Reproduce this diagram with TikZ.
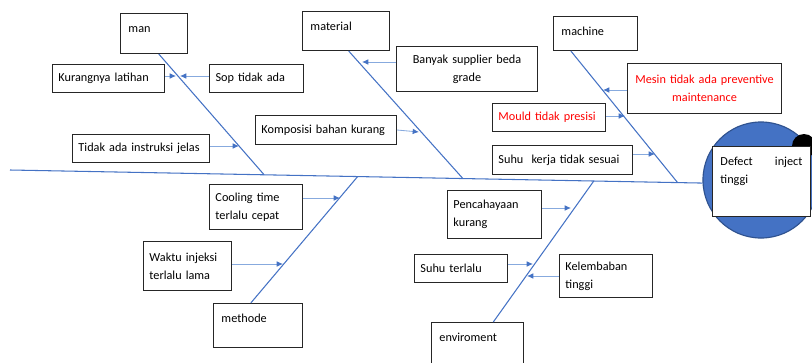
\documentclass[tikz,border=0pt]{standalone}
\usepackage{fontspec}
\setmainfont{Carlito}
\usetikzlibrary{arrows.meta, positioning, calc}
\definecolor{boneblue}{RGB}{68,114,196}
\definecolor{arrblue}{RGB}{135,170,222}
\definecolor{headline}{RGB}{47,82,143}
\definecolor{causered}{RGB}{255,0,0}
\newcommand\cfont{\fontsize{8.7}{12.8}\selectfont}
\tikzset{
  catbox/.style 2 args = {draw=black!85, line width=0.7pt, rectangle,
                          anchor=north west, font=\cfont, align=left,
                          inner xsep=0.2cm, inner ysep=0pt, text width=#1,
                          text height=0.475cm, text depth=#2},
  cause/.style 2 args  = {draw=black!85, line width=0.7pt, rectangle,
                          anchor=north west, font=\cfont, align=left,
                          inner xsep=0.15cm, inner ysep=0pt, text width=#1,
                          minimum height=#2},
  bone/.style  = {draw=boneblue, line width=0.75pt},
  arr/.style   = {draw=arrblue, line width=0.6pt,
                  -{Latex[length=4.5pt, width=4pt, color=boneblue]}}
}

\begin{document}
\begin{tikzpicture}[x=0.025cm, y=-0.025cm]
  \useasboundingbox (0,0) rectangle (812,363);

  % ── Head: circle with effect box ──────────────────────────────────────────
  \node[circle, draw=headline, line width=0.8pt, fill=boneblue,
        minimum size=2.9cm, inner sep=0pt] (Head) at (761,180) {};
  \node[circle, fill=black, minimum size=0.6cm, inner sep=0pt] (Dot) at (804,146) {};
  \node[catbox={2.05cm}{1.275cm}, fill=white] (Effect) at (712,146)
    {Defect\hskip 0pt plus 1filll inject\\ tinggi};

  % ── Spine ─────────────────────────────────────────────────────────────────
  \coordinate (Tail) at (10,170);
  \draw[bone] (Tail) -- (Head.183);

  % ── Category boxes ────────────────────────────────────────────────────────
  \node[catbox={1.275cm}{0.525cm}] (Man)        at (120,13)  {man};
  \node[catbox={1.775cm}{0.5cm}]   (Material)   at (302,11)  {material};
  \node[catbox={1.7cm}{0.375cm}]   (Machine)    at (553,16)  {machine};
  \node[catbox={1.825cm}{0.625cm}] (Methode)    at (213,303) {methode};
  \node[catbox={1.9cm}{0.65cm}]    (Enviroment) at (431,322) {enviroment};

  % ── Bones ─────────────────────────────────────────────────────────────────
  \draw[bone] ($(Man.south west)!0.57!(Man.south east)$)
              -- ($(Tail)!0.367!(Head.183)$);
  \draw[bone] ($(Material.south west)!0.53!(Material.south east)$)
              -- ($(Tail)!0.654!(Head.183)$);
  \draw[bone] ($(Machine.south west)!0.21!(Machine.south east)$)
              -- ($(Tail)!0.964!(Head.183)$);
  \draw[bone] ($(Tail)!0.502!(Head.183)$)
              -- ($(Methode.north west)!0.42!(Methode.north east)$);
  \draw[bone] ($(Tail)!0.843!(Head.183)$)
              -- ($(Enviroment.north west)!0.67!(Enviroment.north east)$);

  % ── Causes: man ───────────────────────────────────────────────────────────
  \node[cause={2.5cm}{0.7cm}] (Kurang) at (52,64) {Kurangnya latihan};
  \node[cause={2.05cm}{0.7cm}, right=1.1cm of Kurang] (Sop) {Sop tidak ada};
  \node[cause={3.125cm}{0.7cm}] (Instruksi) at (72,134) {Tidak ada instruksi jelas};

  % ── Causes: material ──────────────────────────────────────────────────────
  \node[cause={3.225cm}{1.125cm}, align=center] (Supplier) at (396,46)
    {Banyak supplier beda\\ grade};
  \node[cause={3.225cm}{0.725cm}] (Komposisi) at (255,115) {Komposisi bahan kurang};

  % ── Causes: machine ───────────────────────────────────────────────────────
  \node[cause={3.55cm}{1.25cm}, align=center, text=causered] (Mesin) at (627,63)
    {Mesin tidak ada preventive\\ maintenance};
  \node[cause={2.525cm}{0.7cm}, text=causered] (Mould) at (492,103) {Mould tidak presisi};
  \node[cause={3.2cm}{0.725cm}, below=0.325cm of Mould.south west, anchor=north west]
    (SuhuKerja) {Suhu\ \ kerja tidak sesuai};

  % ── Causes: methode ───────────────────────────────────────────────────────
  \node[cause={2.025cm}{1.125cm}] (Cooling) at (209,184) {Cooling time\\ terlalu cepat};
  \node[cause={1.9cm}{1.225cm}]   (Waktu)   at (143,241) {Waktu injeksi\\ terlalu lama};

  % ── Causes: enviroment ────────────────────────────────────────────────────
  \node[cause={2.05cm}{1.2cm}]   (Cahaya)      at (447,190) {Pencahayaan\\ kurang};
  \node[cause={2.025cm}{0.7cm}]  (SuhuTerlalu) at (414,254) {Suhu terlalu};
  \node[cause={2.025cm}{1.075cm}] (Lembab)     at (559,254) {Kelembaban\\ tinggi};

  % ── Arrow tips on the bones ───────────────────────────────────────────────
  \coordinate (tKurang)      at (176,76);
  \coordinate (tSop)         at (180,76);
  \coordinate (tInstruksi)   at (239,146);
  \coordinate (tSupplier)    at (362,62);
  \coordinate (tKomposisi)   at (419,132);
  \coordinate (tMesin)       at (603,90);
  \coordinate (tMould)       at (625,116);
  \coordinate (tSuhuKerja)   at (655,154);
  \coordinate (tCooling)     at (340,198);
  \coordinate (tWaktu)       at (283,264);
  \coordinate (tCahaya)      at (571,208);
  \coordinate (tSuhuTerlalu) at (533,264);
  \coordinate (tLembab)      at (527,276);

  % ── Cause arrows ──────────────────────────────────────────────────────────
  \draw[arr] (Kurang.east |- tKurang)           -- (tKurang);
  \draw[arr] (Sop.west |- tSop)                 -- (tSop);
  \draw[arr] (Instruksi.east |- tInstruksi)     -- (tInstruksi);
  \draw[arr] (Supplier.west |- tSupplier)       -- (tSupplier);
  \draw[arr] (Komposisi.east)                   -- (tKomposisi);
  \draw[arr] (Mesin.west |- tMesin)             -- (tMesin);
  \draw[arr] (Mould.east |- tMould)             -- (tMould);
  \draw[arr] (SuhuKerja.east |- tSuhuKerja)     -- (tSuhuKerja);
  \draw[arr] (Cooling.east |- tCooling)         -- (tCooling);
  \draw[arr] (Waktu.east |- tWaktu)             -- (tWaktu);
  \draw[arr] (Cahaya.east |- tCahaya)           -- (tCahaya);
  \draw[arr] (SuhuTerlalu.east |- tSuhuTerlalu) -- (tSuhuTerlalu);
  \draw[arr] (Lembab.west |- tLembab)           -- (tLembab);

\end{tikzpicture}
\end{document}
